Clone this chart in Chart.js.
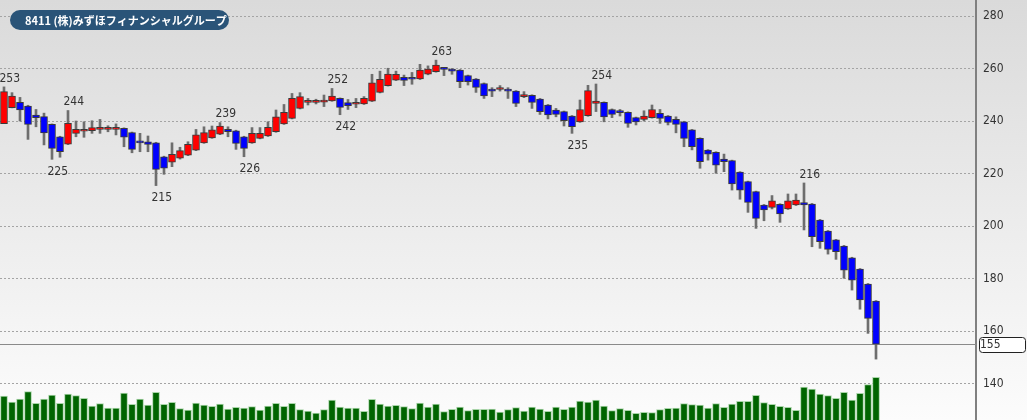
<!DOCTYPE html>
<html>
<head>
<meta charset="utf-8">
<script src="https://cdn.jsdelivr.net/npm/chart.js@4/dist/chart.umd.min.js"></script>
<style>
  html, body { margin: 0; padding: 0; }
  body { width: 1027px; height: 420px; overflow: hidden; }
  #wrap { width: 1027px; height: 420px; background: linear-gradient(#dadada, #fcfcfc); }
  canvas { display: block; }
</style>
</head>
<body>
<div id="wrap"><canvas id="myChart" width="1027" height="420"></canvas></div>
<script>
var title = '8411 (株)みずほフィナンシャルグループ';

// daily prices, oldest first
var opens = [239, 245.1, 247.1, 245.7, 242.3, 241.7, 238.7, 234, 231.2, 235.3,
  236.1, 236.3, 236.8, 236.8, 236.8, 237.2, 235.6, 232.1, 232.1, 231.7,
  226.4, 224.3, 225.8, 227, 228.9, 231.7, 233.6, 235, 236.8, 236.3,
  234, 231.7, 233.4, 234.3, 235.9, 238.9, 241, 244.8, 247.1, 247.1,
  247.2, 247.7, 248.6, 247, 246.4, 246.5, 247.6, 250.9, 253.5, 255.6,
  256.6, 256.3, 256, 257.8, 258.8, 260, 259.8, 259.4, 257.3, 256,
  254.3, 252.2, 252, 251.9, 251.4, 249.3, 249.8, 248.4, 246.1, 244.2,
  243.6, 241.9, 239.7, 242, 246.7, 247.1, 244.4, 243.3, 243.3, 241.3,
  240.6, 241.3, 242.9, 241.9, 240.6, 239.7, 236.6, 233.4, 228.9, 228.1,
  225.5, 224.9, 220.5, 216.9, 213.1, 208, 207.1, 208.3, 206.5, 208,
  208.9, 208.4, 202.3, 198.1, 194.7, 192.4, 187.9, 183.6, 177.9, 171.4];
var highs = [253, 250.8, 249, 246, 244.4, 243, 238.9, 234.2, 244, 240,
  239.7, 240.1, 240.6, 238.2, 238.9, 237.4, 235.8, 235.3, 234.3, 231.9,
  226.6, 231.7, 230, 232.1, 236.8, 237.8, 238.1, 239.4, 237.8, 236.5,
  234.2, 237.5, 237.5, 239.7, 244.2, 246.3, 250.5, 250.8, 248.6, 248.3,
  249.9, 252.4, 248.8, 248.2, 248.6, 249.3, 257.8, 259, 260.1, 259,
  257.5, 258.5, 261.6, 261, 263.2, 260.2, 260, 259.6, 257.5, 256.2,
  254.5, 252.7, 253.5, 252.7, 251.6, 251.2, 250, 248.6, 246.3, 244.8,
  243.8, 242.1, 248, 253.6, 254.1, 247.3, 244.6, 244.4, 243.5, 241.5,
  243.9, 246.1, 244.4, 242.1, 241.6, 239.9, 236.8, 233.6, 229.1, 228.3,
  227.4, 225.1, 220.7, 217.1, 213.3, 208.2, 211.6, 208.5, 212.2, 212.2,
  216.4, 208.6, 202.5, 198.3, 194.9, 192.6, 188.1, 183.8, 178.1, 171.6];
var lows = [239, 245, 240, 233, 237.8, 230.9, 225.4, 226.2, 231, 234,
  233.8, 235.3, 235.3, 235.9, 234.7, 230.2, 227.9, 228.3, 228.3, 215.4,
  219.7, 222.6, 225.5, 226.8, 228.7, 231.5, 233.4, 234.8, 234, 229.2,
  226.4, 231.5, 233.2, 234.1, 235.7, 238.7, 240.8, 244.6, 246.1, 246.5,
  245.5, 247.5, 242.4, 244.4, 245.1, 246.3, 247.4, 250.7, 253.3, 255.4,
  253.5, 254, 255.8, 257.6, 258.6, 257.3, 257.8, 252.7, 253.7, 250.9,
  248.6, 249.3, 251.4, 248.6, 245.5, 248.9, 244.8, 242.5, 240.8, 241.6,
  238.1, 235.3, 239.5, 241.8, 243.6, 239.7, 241.3, 241.9, 237.6, 238.5,
  240, 241.1, 239.1, 238.5, 235.5, 230.2, 229, 222, 225.1, 220.1,
  220.7, 213.7, 210.2, 205.2, 199.1, 202, 206.5, 201.4, 206.3, 207.8,
  198.5, 192.1, 191.5, 189.3, 187.3, 180.1, 175.6, 168.3, 159.1, 149.3];
var closes = [251.2, 249.5, 244.2, 238.7, 241.3, 235.5, 229.6, 228.3, 239.1, 236.8,
  236.5, 237.5, 237.1, 237, 237, 233.8, 229.2, 231.7, 231.1, 221.6,
  222, 227.3, 228.7, 231.1, 234.7, 235.6, 236.6, 238.1, 235.9, 231.5,
  229.6, 235.3, 235.3, 237.6, 241.6, 243.3, 248.6, 249.3, 247.3, 247.3,
  248, 249.5, 245.2, 245.8, 246.9, 248.6, 254.5, 255.9, 257.9, 257.8,
  255.5, 255.9, 259.4, 259.8, 261.3, 259.7, 259, 255, 255, 252.8,
  249.6, 251.4, 252.4, 251.4, 246.7, 250.1, 247.1, 243.6, 242.3, 242.5,
  240.1, 237.8, 244.4, 251.6, 247.6, 241.6, 242.5, 243.2, 239.1, 239.7,
  241.9, 244.4, 241, 239.5, 238.7, 233.4, 230.2, 224.5, 227.4, 223.2,
  224.5, 216, 213.7, 209, 202.9, 206.1, 209.6, 204.6, 209.6, 209.9,
  208, 195.9, 194, 191.1, 190.2, 183.2, 179.4, 171.8, 164.8, 155];
var volumes = [72, 54, 63, 85, 50, 63, 75, 50, 78, 73,
  65, 42, 49, 36, 36, 81, 47, 63, 45, 83,
  47, 53, 34, 30, 51, 45, 41, 48, 33, 38,
  36, 40, 30, 42, 50, 41, 50, 31, 27, 21,
  31, 60, 39, 36, 36, 26, 62, 48, 42, 44,
  40, 34, 51, 39, 48, 25, 32, 39, 28, 32,
  32, 33, 24, 31, 37, 27, 39, 33, 26, 39,
  32, 39, 57, 54, 60, 42, 28, 34, 29, 20,
  23, 22, 31, 35, 36, 49, 46, 45, 36, 49,
  38, 48, 56, 56, 74, 52, 47, 41, 38, 29,
  99, 93, 78, 73, 65, 83, 60, 80, 106, 128];

// highs / lows that get a number written next to them
var markIdx = [0, 6, 8, 19, 27, 30, 41, 42, 54, 71, 74, 100];
var markSide = ['H', 'L', 'H', 'L', 'H', 'L', 'H', 'L', 'H', 'L', 'H', 'H'];

var yTicks = [140, 160, 180, 200, 220, 240, 260, 280];
var emptySlots = 12;

var labels = [];
for (var i = 0; i < opens.length + emptySlots; i++) {
  labels.push(i < opens.length ? String(i + 1) : '');
}

var bodies = [], wicks = [], bodyColors = [];
for (var i = 0; i < opens.length; i++) {
  bodies.push([opens[i], closes[i]]);
  wicks.push([lows[i], highs[i]]);
  bodyColors.push(closes[i] >= opens[i] ? '#ff0000' : '#0000ff');
}

var FONT = "'DejaVu Sans Condensed', 'DejaVu Sans', sans-serif";

const overlay = {
  id: 'overlay',
  beforeDatasetsDraw(chart) {
    // last price line
    const ctx = chart.ctx, y = chart.scales.y, a = chart.chartArea;
    const py = Math.round(y.getPixelForValue(closes[closes.length - 1])) + 0.5;
    ctx.save();
    ctx.strokeStyle = '#8a8a8a';
    ctx.lineWidth = 1;
    ctx.beginPath();
    ctx.moveTo(a.left, py);
    ctx.lineTo(a.right, py);
    ctx.stroke();
    ctx.restore();
  },
  afterDraw(chart) {
    const ctx = chart.ctx, x = chart.scales.x, y = chart.scales.y, a = chart.chartArea;
    ctx.save();
    ctx.font = '12px ' + FONT;
    ctx.fillStyle = '#333';
    ctx.textAlign = 'left';
    ctx.textBaseline = 'middle';
    markIdx.forEach(function (idx, k) {
      const px = x.getPixelForValue(idx) - 4.5;
      if (markSide[k] === 'H') {
        ctx.fillText(Math.round(highs[idx]), px, y.getPixelForValue(highs[idx]) - 8.5);
      } else {
        ctx.fillText(Math.round(lows[idx]), px, y.getPixelForValue(lows[idx]) + 12.5);
      }
    });

    // last price box
    const last = closes[closes.length - 1];
    const py = Math.round(y.getPixelForValue(last));
    ctx.beginPath();
    ctx.roundRect(a.right + 3.5, py - 6.5, 46, 15, 3);
    ctx.fillStyle = '#fff';
    ctx.fill();
    ctx.strokeStyle = '#222';
    ctx.lineWidth = 1;
    ctx.stroke();
    ctx.fillStyle = '#333';
    ctx.fillText(Math.round(last), a.right + 4, py + 1);

    // name badge
    ctx.beginPath();
    ctx.roundRect(10, 10, 219, 20, 10);
    ctx.fillStyle = '#2a5478';
    ctx.fill();
    ctx.fillStyle = '#fff';
    ctx.font = "bold 11px 'Noto Sans CJK JP', sans-serif";
    ctx.fillText(title, 25, 20.5);
    ctx.restore();
  }
};

const config = {
  type: 'bar',
  data: {
    labels: labels,
    datasets: [{
      label: 'body',
      data: bodies,
      backgroundColor: bodyColors,
      borderColor: '#3a3a3a',
      borderWidth: 1,
      borderSkipped: false,
      barThickness: 7,
      minBarLength: 2,
      grouped: false,
      yAxisID: 'y',
      order: 1
    }, {
      label: 'wick',
      data: wicks,
      backgroundColor: '#6e6e6e',
      barThickness: 2,
      grouped: false,
      yAxisID: 'y',
      order: 2
    }, {
      label: 'volume',
      data: volumes,
      backgroundColor: '#006400',
      borderColor: '#a8d4a8',
      borderWidth: 1,
      borderSkipped: 'bottom',
      barThickness: 7,
      grouped: false,
      yAxisID: 'y2',
      order: 3
    }]
  },
  options: {
    responsive: false,
    animation: false,
    layout: { padding: 0 },
    plugins: {
      legend: { display: false },
      tooltip: { enabled: false },
      title: { display: false }
    },
    scales: {
      x: {
        display: false,
        offset: true
      },
      y: {
        position: 'right',
        min: 126.1,
        max: 286.1,
        afterBuildTicks: function (scale) {
          scale.ticks = yTicks.map(function (v) { return { value: v }; });
        },
        afterFit: function (scale) {
          scale.width = 51;
          scale.paddingTop = 0;
          scale.paddingBottom = 0;
        },
        grid: {
          color: '#a4a4a4',
          lineWidth: 1,
          drawTicks: false
        },
        border: {
          display: true,
          color: '#808080',
          width: 2,
          dash: [2, 2]
        },
        ticks: {
          padding: 7,
          color: '#333',
          font: { family: FONT, size: 12 }
        }
      },
      y2: {
        display: false,
        min: 0,
        max: 1260
      }
    }
  },
  plugins: [overlay]
};

var myChart = new Chart(
  document.getElementById('myChart'),
  config
);
</script>
</body>
</html>
